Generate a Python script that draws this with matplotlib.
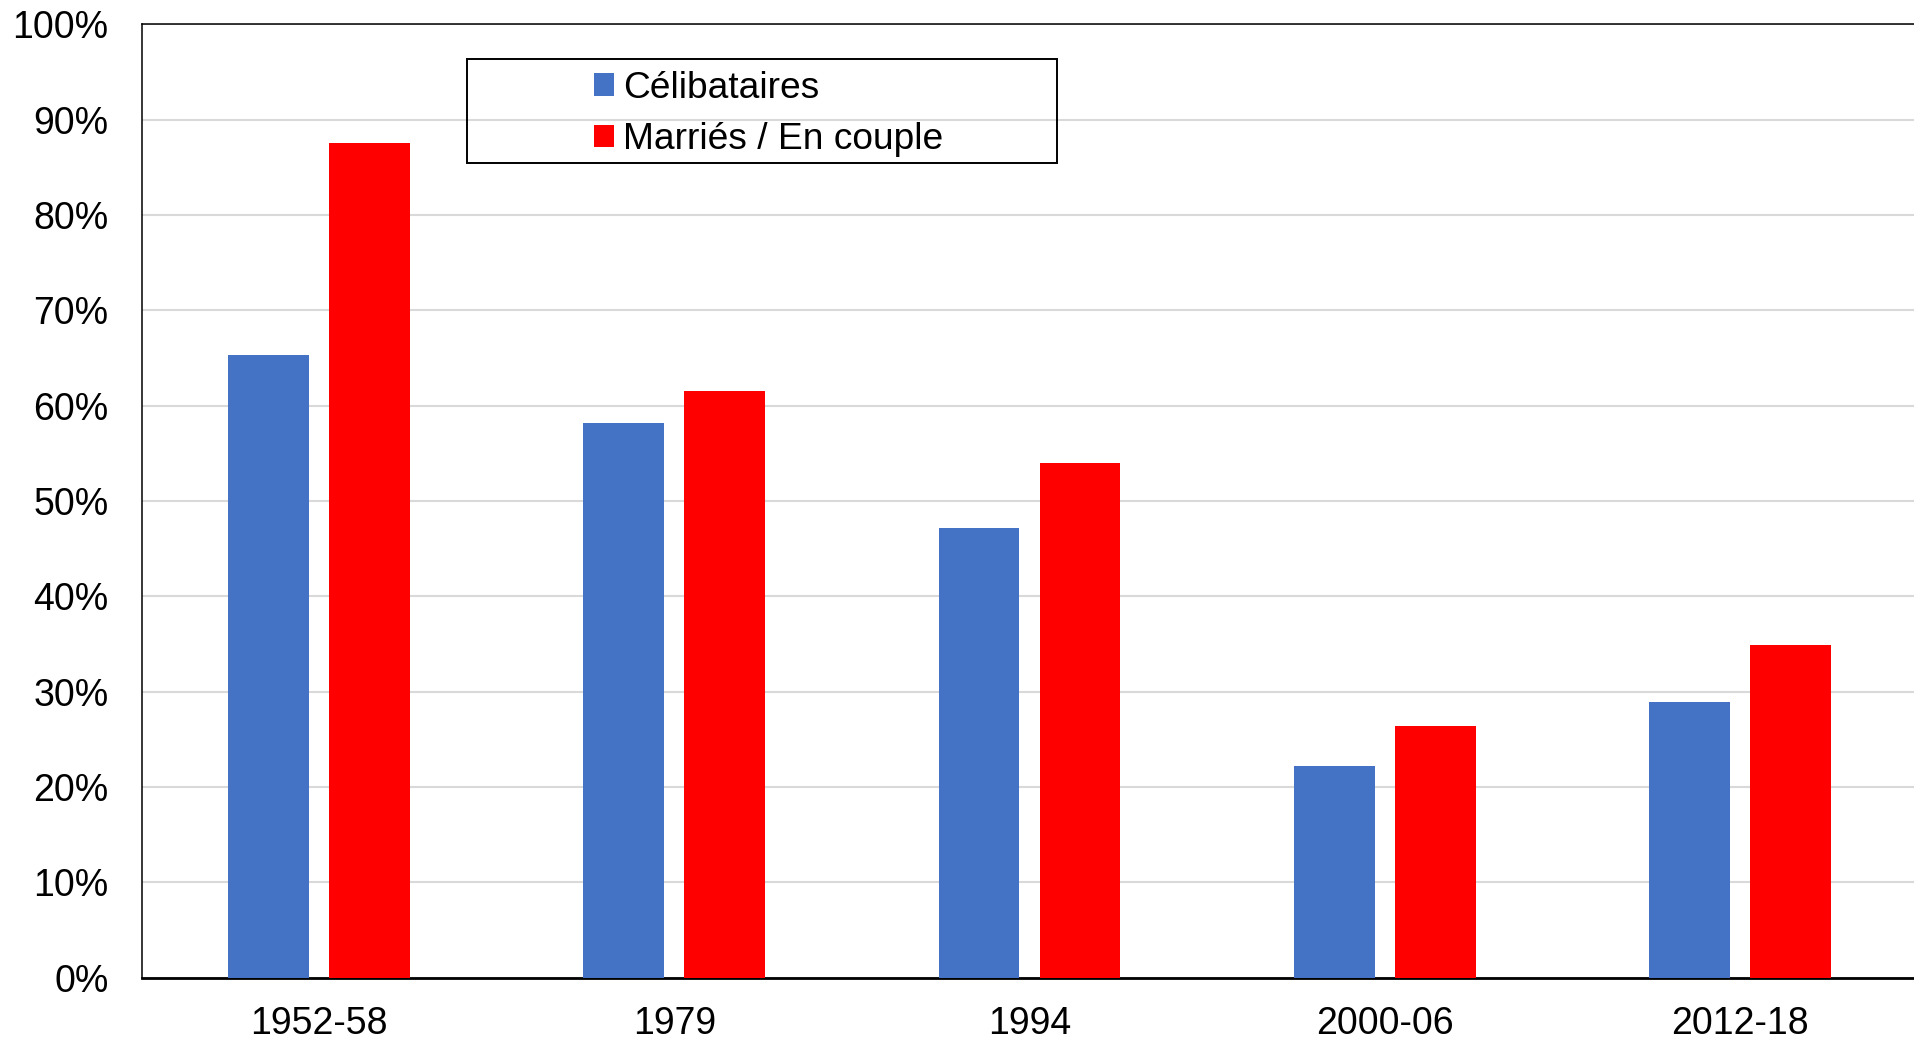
import matplotlib.pyplot as plt
from matplotlib.patches import Rectangle
import numpy as np

plt.rcParams['font.family'] = ['Liberation Sans', 'DejaVu Sans']

periods = ['1952-58', '1979', '1994', '2000-06', '2012-18']
celibataires = [65.3, 58.2, 47.2, 22.2, 28.9]
maries = [87.5, 61.5, 54.0, 26.4, 34.9]
yticks = [0, 10, 20, 30, 40, 50, 60, 70, 80, 90, 100]

fig = plt.figure(figsize=(19.15, 10.41), dpi=100)
ax = fig.add_axes([0.074, 0.0607, 1.0016 - 0.074, 0.9767 - 0.0607])

x = np.arange(len(periods))
w = 0.227
ax.bar(x - 0.143, celibataires, w, color='#4472C4', label='Célibataires', zorder=3)
ax.bar(x + 0.141, maries, w, color='#FF0000', label='Marriés / En couple', zorder=3)

ax.set_xlim(-0.5, 4.5)
ax.set_ylim(0, 100)
ax.set_yticks(yticks)
ax.set_yticklabels([f'{v}%' for v in yticks])
ax.set_xticks(x)
ax.set_xticklabels(periods)
ax.tick_params(axis='y', length=0, pad=24, labelsize=27)
ax.tick_params(axis='x', length=0, pad=20, labelsize=27)
ax.yaxis.grid(True, color='#d9d9d9', linewidth=1.5, zorder=0)
ax.set_axisbelow(True)

ax.spines['right'].set_visible(False)
ax.spines['top'].set_linewidth(1.1)
ax.spines['left'].set_linewidth(1.1)
ax.spines['bottom'].set_linewidth(2)

# legende sans cadre + rectangle plus large autour
leg = fig.legend(loc='center left', bbox_to_anchor=(594 / 1915, 1 - 114 / 1041),
                 frameon=False, fontsize=26.7, handlelength=0.54, handleheight=0.54,
                 handletextpad=0.24, labelspacing=0.45, borderpad=0, borderaxespad=0)

fig.patches.append(Rectangle((0.2441, 0.8437), 0.3081, 0.0996, transform=fig.transFigure,
                             fill=False, edgecolor='black', linewidth=1.4, zorder=5))

fig.savefig('out.png', dpi=100)
